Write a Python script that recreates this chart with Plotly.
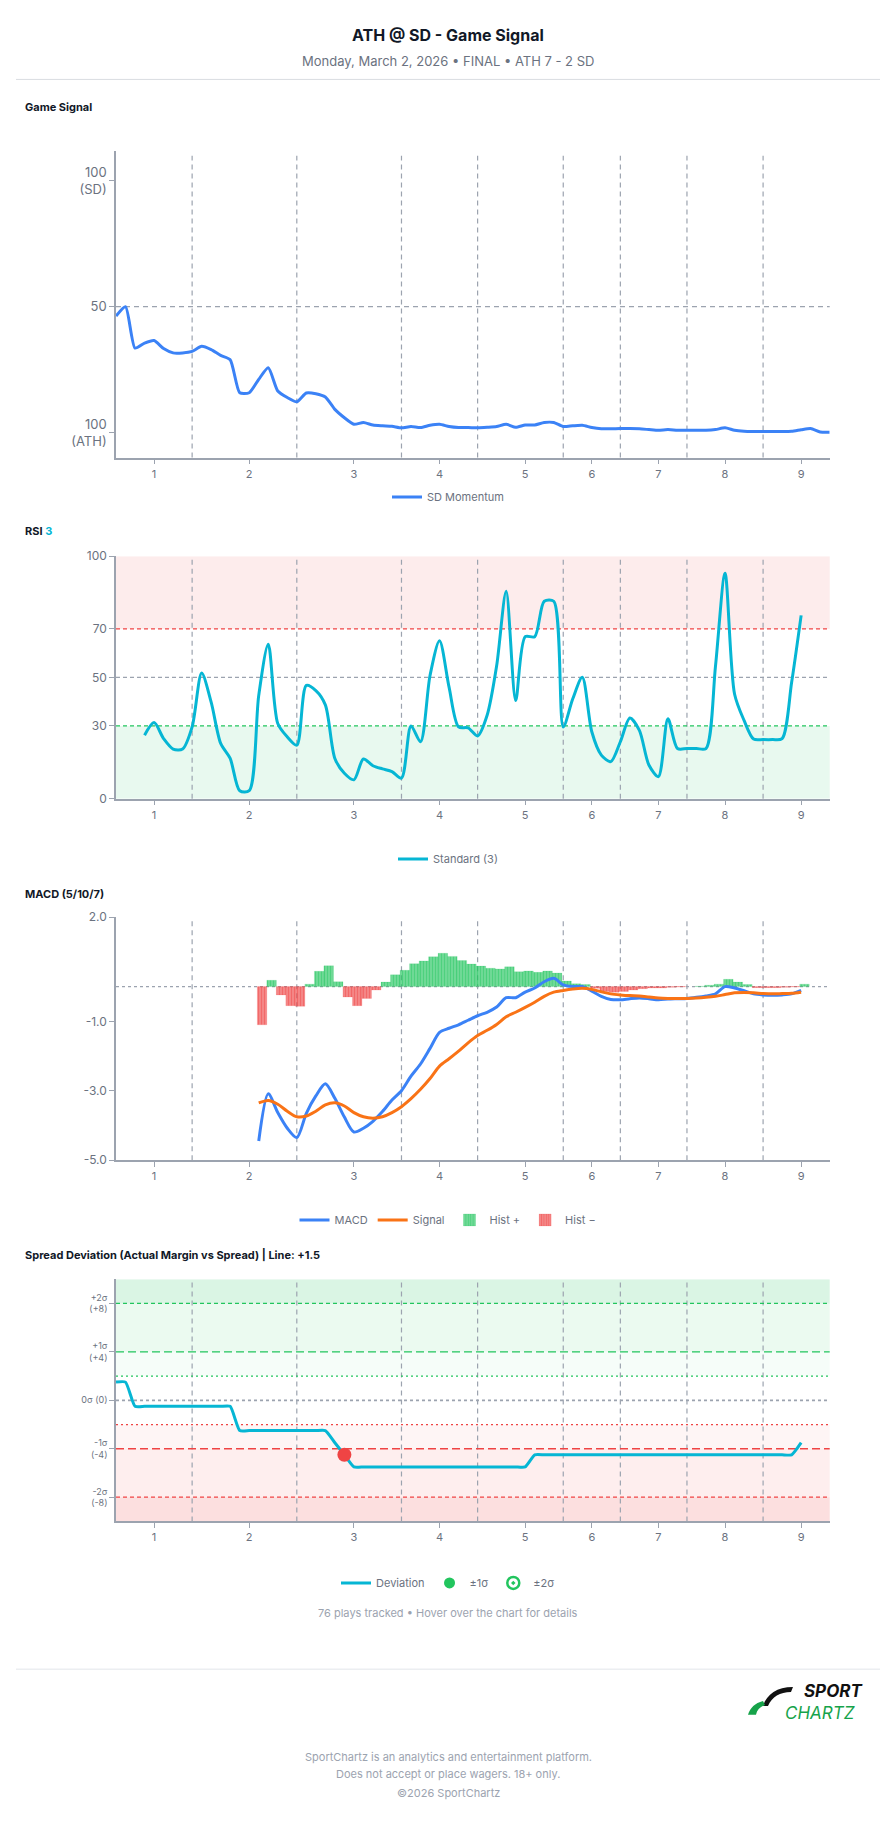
import plotly.graph_objects as go

W, H = 896, 1824
FONT = "Inter"
GRAY_TXT = "#6b7280"
AXIS_COL = "#9ca3af"

# ---------------- data ----------------
inning_labels = ["1", "2", "3", "4", "5", "6", "7", "8", "9"]
inning_tick_plays = [4, 14, 25, 34, 43, 50, 57, 64, 72]
inning_break_plays = [8, 19, 30, 38, 47, 53, 60, 68]

momentum_plays = list(range(0, 76))
sd_momentum = [46.3, 50.0, 33.6, 35.6, 36.6, 33.4, 31.7, 31.7, 32.3, 34.3, 33.0, 30.7, 29.0,
               15.9, 15.9, 21.2, 25.8, 16.6, 14.0, 12.3, 15.8, 15.5, 14.2, 9.3, 6.0,
               3.4, 4.1, 3.1, 2.8, 2.6, 2.0, 2.5, 2.1, 3.0, 3.4, 2.5,
               2.1, 2.1, 2.0, 2.2, 2.5, 3.4, 2.2, 3.1, 3.1, 4.1, 4.1, 2.5, 2.8, 3.0, 2.1,
               1.6, 1.6, 1.7, 1.7, 1.6, 1.3, 1.0, 1.3, 1.0, 1.0, 1.0, 1.0, 1.3, 2.0, 1.0,
               0.6, 0.5, 0.5, 0.5, 0.5, 0.6, 1.2, 1.7, 0.3, 0.2]

rsi_plays = list(range(3, 73))
rsi_values = [26.2, 31.4, 24.8, 20.5, 20.5, 29.6, 51.8, 39.8, 22.8, 16.6,
              3.3, 3.3, 42.6, 63.7, 31.0, 25.5, 22.1, 46.7, 44.6, 38.7,
              16.6, 10.5, 7.8, 16.4, 13.6, 12.3, 11.2, 8.5, 30.0, 23.5,
              50.8, 65.1, 46.0, 29.6, 29.2, 25.9, 34.4, 54.8, 85.5, 40.5,
              66.8, 66.8, 81.4, 81.4, 29.6, 41.2, 50.1, 27.6, 18.0, 15.3,
              23.5, 33.3, 28.2, 13.9, 9.1, 33.0, 20.7, 20.7, 20.7, 20.7,
              54.8, 93.0, 43.2, 32.3, 24.6, 24.4, 24.4, 24.8, 48.0, 75.6]

macd_plays = list(range(15, 73))
macd_values = [-4.45, -3.09, -3.63, -4.08, -4.35, -3.65, -3.15, -2.8, -3.22, -3.76,
               -4.19, -4.08, -3.88, -3.6, -3.27, -3.0, -2.58, -2.23, -1.78, -1.32,
               -1.2, -1.1, -0.97, -0.84, -0.74, -0.59, -0.32, -0.32, -0.16, -0.04,
               0.14, 0.24, 0.05, 0.0, 0.0, -0.13, -0.28, -0.37, -0.38, -0.35,
               -0.33, -0.35, -0.38, -0.36, -0.35, -0.34, -0.31, -0.27, -0.21, 0.0,
               -0.04, -0.12, -0.21, -0.24, -0.25, -0.24, -0.21, -0.11]
signal_values = [-3.35, -3.28, -3.39, -3.59, -3.75, -3.73, -3.59, -3.41, -3.35, -3.44,
                 -3.63, -3.75, -3.79, -3.75, -3.63, -3.46, -3.23, -2.96, -2.65, -2.29,
                 -2.08, -1.86, -1.62, -1.41, -1.26, -1.09, -0.87, -0.74, -0.60, -0.45,
                 -0.28, -0.16, -0.11, -0.07, -0.05, -0.08, -0.15, -0.21, -0.24, -0.26,
                 -0.27, -0.30, -0.33, -0.34, -0.34, -0.34, -0.33, -0.31, -0.28, -0.23,
                 -0.18, -0.17, -0.18, -0.20, -0.21, -0.20, -0.19, -0.16]
hist_values = [-1.1, 0.18, -0.24, -0.55, -0.57, 0.07, 0.44, 0.6, 0.14, -0.3,
               -0.55, -0.34, -0.1, 0.13, 0.34, 0.47, 0.66, 0.74, 0.86, 0.96,
               0.87, 0.75, 0.65, 0.59, 0.53, 0.51, 0.57, 0.43, 0.45, 0.41,
               0.45, 0.39, 0.16, 0.08, 0.06, -0.05, -0.14, -0.16, -0.14, -0.1,
               -0.06, -0.04, -0.04, -0.02, -0.01, 0.0, 0.01, 0.04, 0.07, 0.21,
               0.13, 0.06, -0.03, -0.03, -0.03, -0.02, -0.01, 0.07]

dev_plays = list(range(0, 73))
deviation = [1.5, 1.5,
             -0.5, -0.5, -0.5, -0.5, -0.5, -0.5, -0.5, -0.5, -0.5, -0.5, -0.5,
             -2.5, -2.5, -2.5, -2.5, -2.5, -2.5, -2.5, -2.5, -2.5, -2.5,
             -3.5, -4.5,
             -5.5, -5.5, -5.5, -5.5, -5.5, -5.5, -5.5, -5.5, -5.5, -5.5,
             -5.5, -5.5, -5.5, -5.5, -5.5, -5.5, -5.5, -5.5, -5.5,
             -4.5, -4.5, -4.5, -4.5, -4.5, -4.5, -4.5, -4.5, -4.5, -4.5,
             -4.5, -4.5, -4.5, -4.5, -4.5, -4.5, -4.5, -4.5, -4.5, -4.5,
             -4.5, -4.5, -4.5, -4.5, -4.5, -4.5, -4.5, -4.5,
             -3.5]
alert_plays = [24]
alert_values = [-4.5]

sigma_vals = [8, 4, 0, -4, -8]
sigma_text = ["+2σ<br>(+8)", "+1σ<br>(+4)", "0σ (0)", "-1σ<br>(-4)", "-2σ<br>(-8)"]

# ---------------- helpers ----------------
def py(p):
    return 1 - p / H

def px(p):
    return p / W

X0, X1 = px(116), px(829.7)
panels = {
    "1": (py(453.3), py(144)),
    "2": (py(797.3), py(552.7)),
    "3": (py(1161.7), py(916.7)),
    "4": (py(1526), py(1281.7)),
}

fig = go.Figure()

# Game signal
fig.add_trace(go.Scatter(x=momentum_plays, y=sd_momentum, mode="lines", name="SD Momentum",
                         line=dict(color="#3b82f6", width=3, shape="spline", smoothing=0.6),
                         xaxis="x", yaxis="y", legend="legend"))
# RSI
fig.add_trace(go.Scatter(x=rsi_plays, y=rsi_values, mode="lines", name="Standard (3)",
                         line=dict(color="#06b6d4", width=3, shape="spline", smoothing=0.8),
                         xaxis="x2", yaxis="y2", legend="legend2"))
# MACD
hist_pos = [v if v > 0 else None for v in hist_values]
hist_neg = [v if v < 0 else None for v in hist_values]
fig.add_trace(go.Scatter(x=macd_plays, y=macd_values, mode="lines", name="MACD",
                         line=dict(color="#3b82f6", width=3, shape="spline", smoothing=0.8),
                         xaxis="x3", yaxis="y3", legend="legend3"))
fig.add_trace(go.Scatter(x=macd_plays, y=signal_values, mode="lines", name="Signal",
                         line=dict(color="#f97316", width=3, shape="spline", smoothing=0.8),
                         xaxis="x3", yaxis="y3", legend="legend3"))
fig.add_trace(go.Bar(x=macd_plays, y=hist_pos, name="Hist +", width=1, offset=-0.15,
                     marker=dict(color="rgba(34,197,94,0.7)",
                                 line=dict(color="rgba(34,197,94,0.3)", width=0.5),
                                 pattern=dict(shape="|", fgcolor="#22c55e",
                                              bgcolor="rgba(34,197,94,0.6)", size=3, solidity=0.5)),
                     xaxis="x3", yaxis="y3", legend="legend3"))
fig.add_trace(go.Bar(x=macd_plays, y=hist_neg, name="Hist −", width=1, offset=-0.15,
                     marker=dict(color="rgba(239,68,68,0.7)",
                                 line=dict(color="rgba(239,68,68,0.3)", width=0.5),
                                 pattern=dict(shape="|", fgcolor="#ef4444",
                                              bgcolor="rgba(239,68,68,0.6)", size=3, solidity=0.5)),
                     xaxis="x3", yaxis="y3", legend="legend3"))
# Spread deviation
fig.add_trace(go.Scatter(x=dev_plays, y=deviation, mode="lines", name="Deviation",
                         line=dict(color="#06b6d4", width=3, shape="spline", smoothing=0.5),
                         xaxis="x4", yaxis="y4", legend="legend4"))
fig.add_trace(go.Scatter(x=alert_plays, y=alert_values, mode="markers", showlegend=False,
                         marker=dict(color="#ef4444", size=14),
                         xaxis="x4", yaxis="y4"))
fig.add_trace(go.Scatter(x=[None], y=[None], mode="markers", name="±1σ",
                         marker=dict(color="#22c55e", size=11),
                         xaxis="x4", yaxis="y4", legend="legend4"))
fig.add_trace(go.Scatter(x=[None], y=[None], mode="markers", name="±2σ",
                         marker=dict(color="white", size=12, symbol="circle-dot",
                                     line=dict(color="#22c55e", width=2.5)),
                         xaxis="x4", yaxis="y4", legend="legend4"))

# ---------------- axes ----------------
axis_common = dict(showline=True, linecolor=AXIS_COL, linewidth=1.5, ticks="outside",
                   ticklen=5, tickcolor=AXIS_COL, showgrid=False, zeroline=False,
                   fixedrange=True)
layout = dict(width=W, height=H, margin=dict(l=0, r=0, t=0, b=0), autosize=False,
              paper_bgcolor="white", plot_bgcolor="white",
              font=dict(family=FONT, color=GRAY_TXT), barmode="overlay",
              hovermode=False)

for k, (y0, y1) in panels.items():
    xa = "xaxis" if k == "1" else f"xaxis{k}"
    ya = "yaxis" if k == "1" else f"yaxis{k}"
    yref = "y" if k == "1" else f"y{k}"
    xref = "x" if k == "1" else f"x{k}"
    layout[xa] = dict(domain=[X0, X1], anchor=yref, range=[0, 75],
                      tickvals=inning_tick_plays, ticktext=inning_labels,
                      tickfont=dict(size=11, color=GRAY_TXT), **axis_common)
    layout[ya] = dict(domain=[y0, y1], anchor=xref, **axis_common)

layout["yaxis"].update(range=[-9.8, 111.8], tickvals=[100, 50, 0],
                       ticktext=["100<br>(SD)", "50", "100<br>(ATH)"],
                       tickfont=dict(size=13, color=GRAY_TXT))
layout["yaxis2"].update(range=[0, 100], tickvals=[0, 30, 50, 70, 100],
                        tickfont=dict(size=12, color=GRAY_TXT))
layout["yaxis3"].update(range=[-5, 2], tickvals=[2, -1, -3, -5],
                        ticktext=["2.0", "-1.0", "-3.0", "-5.0"],
                        tickfont=dict(size=12, color=GRAY_TXT))
layout["yaxis4"].update(range=[-10, 10], tickvals=sigma_vals, ticktext=sigma_text,
                        tickfont=dict(size=9, color=GRAY_TXT))

legend_common = dict(orientation="h", x=0.5, xanchor="center", yanchor="middle",
                     font=dict(size=11, color=GRAY_TXT), bgcolor="rgba(0,0,0,0)",
                     itemwidth=30)
layout["legend"] = dict(y=py(493), **legend_common)
layout["legend2"] = dict(y=py(858), **legend_common)
layout["legend3"] = dict(y=py(1222), **legend_common)
layout["legend4"] = dict(y=py(1588), **legend_common)

fig.update_layout(**layout)

# ---------------- shapes ----------------
shapes = []

def hline(xref, yref, y, color, dash, width=1.2):
    shapes.append(dict(type="line", xref=f"{xref} domain", yref=yref, x0=0, x1=1, y0=y, y1=y,
                       line=dict(color=color, dash=dash, width=width), layer="below"))

def band(xref, yref, ya, yb, color):
    shapes.append(dict(type="rect", xref=f"{xref} domain", yref=yref, x0=0, x1=1, y0=ya, y1=yb,
                       fillcolor=color, line=dict(width=0), layer="below"))

# RSI zones
band("x2", "y2", 70, 100, "rgba(239,68,68,0.10)")
band("x2", "y2", 0, 30, "rgba(34,197,94,0.10)")
# Spread zones
band("x4", "y4", 8, 10, "rgba(34,197,94,0.17)")
band("x4", "y4", 4, 8, "rgba(34,197,94,0.09)")
band("x4", "y4", 2, 4, "rgba(34,197,94,0.04)")
band("x4", "y4", -4, -2, "rgba(239,68,68,0.05)")
band("x4", "y4", -8, -4, "rgba(239,68,68,0.09)")
band("x4", "y4", -10, -8, "rgba(239,68,68,0.17)")

# inning separators
for xr, yr, top in [("x", "y", 0.984), ("x2", "y2", 1), ("x3", "y3", 1), ("x4", "y4", 1)]:
    for b in inning_break_plays:
        shapes.append(dict(type="line", xref=xr, yref=f"{yr} domain", x0=b, x1=b, y0=0, y1=top,
                           line=dict(color=AXIS_COL, dash="5px,4px", width=1.2), layer="below"))

hline("x", "y", 50, AXIS_COL, "5px,4px")
hline("x2", "y2", 70, "#ef4444", "4px,3px")
hline("x2", "y2", 50, AXIS_COL, "4px,3px")
hline("x2", "y2", 30, "#22c55e", "4px,3px")
hline("x3", "y3", 0, AXIS_COL, "3px,3px")
hline("x4", "y4", 8, "#22c55e", "4px,3px", 1.3)
hline("x4", "y4", 4, "#22c55e", "8px,4px", 1.3)
hline("x4", "y4", 2, "#22c55e", "2px,3px", 1.3)
hline("x4", "y4", 0, AXIS_COL, "3px,3px", 1.8)
hline("x4", "y4", -2, "#ef4444", "2px,3px", 1.3)
hline("x4", "y4", -4, "#ef4444", "8px,4px", 1.3)
hline("x4", "y4", -8, "#ef4444", "4px,3px", 1.3)

# header / footer dividers
shapes.append(dict(type="line", xref="paper", yref="paper", x0=px(16), x1=px(880),
                   y0=py(72), y1=py(72), line=dict(color="#d9dce1", width=1)))
shapes.append(dict(type="line", xref="paper", yref="paper", x0=px(16), x1=px(880),
                   y0=py(1675), y1=py(1675), line=dict(color="#eceef1", width=1.5)))

# logo swoosh
def path(cmds):
    out = []
    for c in cmds:
        if isinstance(c, str):
            out.append(c)
        else:
            out.append(f"{px(c[0]):.5f},{py(c[1]):.5f}")
    return " ".join(out)

shapes.append(dict(type="path", xref="paper", yref="paper", fillcolor="#111111", line=dict(width=0),
                   path=path(["M", (793, 1693), "C", (777, 1693), (767, 1700), (763, 1712),
                              "L", (768, 1712), "C", (772, 1703), (780, 1698), (791, 1698), "Z"])))
shapes.append(dict(type="path", xref="paper", yref="paper", fillcolor="#16a34a", line=dict(width=0),
                   path=path(["M", (748, 1721), "C", (750, 1714), (755, 1709), (763, 1707),
                              "L", (765, 1711), "C", (760, 1713), (757, 1716), (756, 1721), "Z"])))

fig.update_layout(shapes=shapes)

# ---------------- annotations ----------------
ann = []

def text(x, y, t, size, color, xanchor="center", bold=False, italic=False, align="center",
         yanchor="middle"):
    if bold:
        t = f"<b>{t}</b>"
    if italic:
        t = f"<i>{t}</i>"
    ann.append(dict(xref="paper", yref="paper", x=px(x), y=py(y), text=t, showarrow=False,
                    xanchor=xanchor, yanchor=yanchor, align=align, borderpad=0,
                    font=dict(size=size, color=color, family=FONT)))

text(448, 27, "ATH @ SD - Game Signal", 16, "#111827", bold=True)
text(448, 53, "Monday, March 2, 2026 • FINAL • ATH 7 - 2 SD", 13, GRAY_TXT)
text(24, 100, "Game Signal", 11, "#111827", xanchor="left", bold=True)
text(24, 527, "RSI <span style='color:#06b6d4'>3</span>", 11, "#111827", xanchor="left", bold=True)
text(24, 893, "MACD (5/10/7)", 11, "#111827", xanchor="left", bold=True)
text(24, 1257, "Spread Deviation (Actual Margin vs Spread) | Line: +1.5", 11, "#111827",
     xanchor="left", bold=True)
text(448, 1618, "76 plays tracked • Hover over the chart for details", 11, "#9ca3af")
text(863, 1708, "SPORT", 17, "#111111", xanchor="right", bold=True, italic=True, yanchor="bottom")
text(856, 1708, "CHARTZ", 17, "#16a34a", xanchor="right", italic=True, yanchor="top")
text(448, 1764, "SportChartz is an analytics and entertainment platform.", 11, "#9ca3af")
text(448, 1781, "Does not accept or place wagers. 18+ only.", 11, "#9ca3af")
text(448, 1800, "©2026 SportChartz", 11, "#9ca3af")

fig.update_layout(annotations=ann)

fig.write_html("out.html")
